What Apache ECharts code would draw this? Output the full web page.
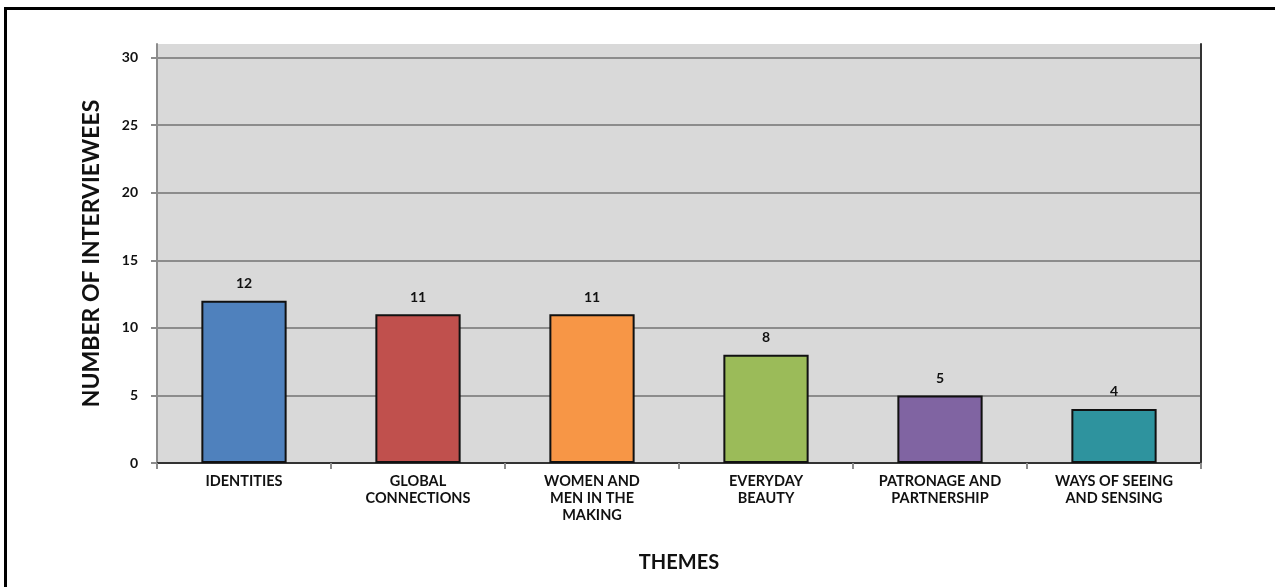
<!DOCTYPE html>
<html>
<head>
<meta charset="utf-8">
<script src="https://cdn.jsdelivr.net/npm/echarts@6/dist/echarts.min.js"></script>
<style>
  html, body { margin: 0; padding: 0; background: #fff; }
  #frame { position: absolute; left: 4px; top: 7px; width: 1271px; height: 580px;
           border-top: 3px solid #000; border-left: 3px solid #000; box-sizing: border-box; }
  #main { position: absolute; left: 0; top: 0; width: 1275px; height: 587px; }
</style>
</head>
<body>
<div id="frame"></div>
<div id="main"></div>
<script>
// themes on the x axis, interviewee counts per theme
const themes = [
  'IDENTITIES',
  'GLOBAL\nCONNECTIONS',
  'WOMEN AND\nMEN IN THE\nMAKING',
  'EVERYDAY\nBEAUTY',
  'PATRONAGE AND\nPARTNERSHIP',
  'WAYS OF SEEING\nAND SENSING'
];
const interviewees = [12, 11, 11, 8, 5, 4];
const barColors = ['#4f81bd', '#c0504d', '#f79646', '#9bbb59', '#8064a2', '#2e939e'];
const yTicks = [0, 5, 10, 15, 20, 25, 30];

const font = 'Lato, "Open Sans", sans-serif';
const chart = echarts.init(document.getElementById('main'));

chart.setOption({
  animation: false,
  grid: {
    left: 157, right: 74, top: 44, bottom: 124,
    show: true, backgroundColor: '#d9d9d9', borderWidth: 0
  },
  xAxis: [{
    type: 'category',
    data: themes,
    name: 'THEMES',
    nameLocation: 'middle',
    nameGap: 90,
    nameTextStyle: { fontFamily: font, fontWeight: 'bold', fontSize: 20, color: '#111' },
    axisLine: { lineStyle: { color: '#8c8c8c', width: 2 } },
    axisTick: { show: true, length: 6, lineStyle: { color: '#8c8c8c', width: 2 } },
    axisLabel: {
      interval: 0, margin: 10, fontFamily: font, fontWeight: 'bold',
      fontSize: 14.5, lineHeight: 17, color: '#111'
    }
  }, {
    type: 'category',
    data: themes,
    position: 'top',
    axisLine: { lineStyle: { color: '#333', width: 2 } },
    axisTick: { show: false },
    axisLabel: { show: false }
  }],
  yAxis: [{
    type: 'value',
    min: 0, max: 31, interval: 5,
    name: 'NUMBER OF INTERVIEWEES',
    nameLocation: 'middle',
    nameGap: 54,
    nameTextStyle: { fontFamily: font, fontWeight: 'bold', fontSize: 23, color: '#111' },
    axisLine: { show: true, lineStyle: { color: '#8c8c8c', width: 2 } },
    axisTick: { show: true, length: 6, customValues: yTicks, lineStyle: { color: '#8c8c8c', width: 2 } },
    axisLabel: {
      customValues: yTicks, margin: 19, fontFamily: font,
      fontWeight: 'bold', fontSize: 14, color: '#111'
    },
    splitLine: { show: true, lineStyle: { color: '#8c8c8c', width: 2 } }
  }, {
    type: 'value',
    min: 0, max: 31, interval: 5,
    position: 'right',
    axisLine: { show: true, lineStyle: { color: '#333', width: 2 } },
    axisTick: { show: false },
    axisLabel: { show: false },
    splitLine: { show: false }
  }],
  series: [{
    type: 'bar',
    data: interviewees.map((v, i) => ({ value: v, itemStyle: { color: barColors[i] } })),
    barWidth: '49%',
    itemStyle: { borderColor: '#111', borderWidth: 2 },
    label: {
      show: true, position: 'top', distance: 10,
      fontFamily: font, fontWeight: 'bold', fontSize: 14, color: '#111'
    }
  }]
});
</script>
</body>
</html>
